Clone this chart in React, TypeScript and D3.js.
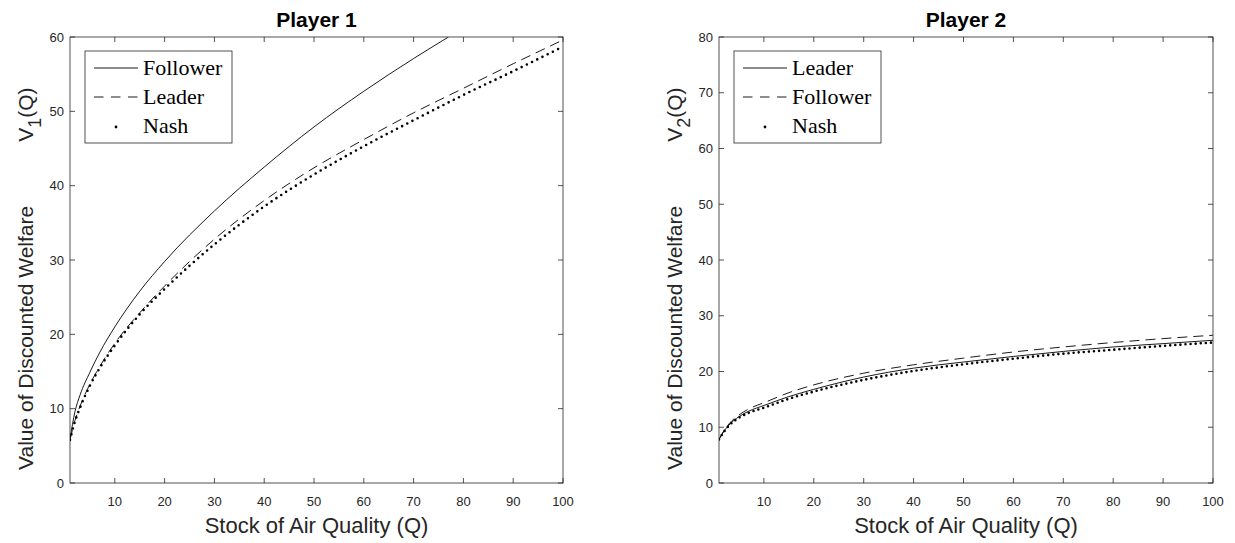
import React from "react";
import * as d3 from "d3";

// ---------- data ----------
const Q = [1, 2, 3, 5, 7, 10, 15, 20, 30, 40, 50, 60, 70, 80, 90, 100];
const Q_P1_FOLLOWER = [1, 2, 3, 5, 7, 10, 15, 20, 30, 40, 50, 60, 70, 77];

const P1_FOLLOWER = [5.9, 9.6, 11.8, 14.9, 17.6, 21.0, 25.8, 29.8, 36.6, 42.5, 47.9, 52.7, 57.1, 60.0];
const P1_LEADER = [5.8, 8.4, 10.3, 13.3, 15.7, 18.8, 22.9, 26.5, 32.8, 38.0, 42.4, 46.2, 49.8, 53.1, 56.4, 59.6];
const P1_NASH = [5.8, 8.3, 10.1, 13.1, 15.5, 18.5, 22.7, 26.1, 32.1, 37.2, 41.5, 45.3, 48.8, 52.2, 55.4, 58.7];

const P2_LEADER = [7.8, 9.3, 10.4, 11.9, 12.9, 13.9, 15.5, 16.8, 19.0, 20.6, 21.7, 22.7, 23.6, 24.4, 25.0, 25.6];
const P2_FOLLOWER = [7.8, 9.4, 10.6, 12.2, 13.3, 14.4, 16.2, 17.6, 19.7, 21.2, 22.4, 23.5, 24.4, 25.2, 25.9, 26.5];
const P2_NASH = [7.8, 9.2, 10.3, 11.7, 12.6, 13.5, 15.1, 16.4, 18.5, 20.1, 21.3, 22.3, 23.2, 23.9, 24.6, 25.2];

const X_TICKS = [10, 20, 30, 40, 50, 60, 70, 80, 90, 100];
const P1_Y_TICKS = [0, 10, 20, 30, 40, 50, 60];
const P2_Y_TICKS = [0, 10, 20, 30, 40, 50, 60, 70, 80];

const X_LABEL = "Stock of Air Quality (Q)";
const Y_LABEL = "Value of Discounted Welfare";

type Series = { name: string; xs: number[]; ys: number[]; style: "solid" | "dashed" | "dots" };

const AX = "#262626";
const SANS = "Helvetica, Arial, 'Liberation Sans', sans-serif";
const SERIF = "'Liberation Serif', 'Times New Roman', serif";

function Panel(props: {
  id: string;
  left: number;
  right: number;
  top: number;
  bottom: number;
  yMax: number;
  yTicks: number[];
  title: string;
  sub: string;
  series: Series[];
  dotGap: number;
}) {
  const { id, left, right, top, bottom, yMax, yTicks, title, sub, series, dotGap } = props;
  const x = d3.scaleLinear().domain([1, 100]).range([left, right]);
  const y = d3.scaleLinear().domain([0, yMax]).range([bottom, top]);
  const tl = 5;

  const lineGen = (xs: number[], ys: number[]) =>
    d3
      .line<number>()
      .x((_, i) => x(xs[i]))
      .y((d) => y(d))
      .curve(d3.curveMonotoneX)(ys) || "";

  const styleOf = (s: Series["style"]) => {
    if (s === "dashed") return { strokeWidth: 0.9, strokeDasharray: "10 6", strokeLinecap: "butt" as const };
    if (s === "dots") return { strokeWidth: 2.6, strokeDasharray: `0 ${dotGap}`, strokeLinecap: "round" as const };
    return { strokeWidth: 0.9, strokeDasharray: undefined, strokeLinecap: "butt" as const };
  };

  const legX = left + 15;
  const legY = top + 14;
  const legW = 147;
  const legH = 92;
  const rowY = [legY + 17, legY + 46, legY + 75];

  const midX = (left + right) / 2;

  return (
    <g>
      <defs>
        <clipPath id={id}>
          <rect x={left} y={top} width={right - left} height={bottom - top} />
        </clipPath>
      </defs>

      {/* series */}
      <g clipPath={`url(#${id})`}>
        {series.map((s, i) => {
          const st = styleOf(s.style);
          return (
            <path
              key={i}
              d={lineGen(s.xs, s.ys)}
              fill="none"
              stroke="#000"
              strokeWidth={st.strokeWidth}
              strokeDasharray={st.strokeDasharray}
              strokeLinecap={st.strokeLinecap}
            />
          );
        })}
      </g>

      {/* axes box */}
      <rect x={left} y={top} width={right - left} height={bottom - top} fill="none" stroke={AX} strokeWidth={0.8} />

      {/* x ticks */}
      {X_TICKS.map((t) => (
        <g key={"x" + t}>
          <line x1={x(t)} x2={x(t)} y1={bottom} y2={bottom - tl} stroke={AX} strokeWidth={0.8} />
          <line x1={x(t)} x2={x(t)} y1={top} y2={top + tl} stroke={AX} strokeWidth={0.8} />
          <text x={x(t)} y={bottom + 23} textAnchor="middle" fontFamily={SANS} fontSize={13} fill={AX}>
            {t}
          </text>
        </g>
      ))}

      {/* y ticks */}
      {yTicks.map((t) => (
        <g key={"y" + t}>
          <line x1={left} x2={left + tl} y1={y(t)} y2={y(t)} stroke={AX} strokeWidth={0.8} />
          <line x1={right} x2={right - tl} y1={y(t)} y2={y(t)} stroke={AX} strokeWidth={0.8} />
          <text x={left - 6} y={y(t)} dy="0.36em" textAnchor="end" fontFamily={SANS} fontSize={13} fill={AX}>
            {t}
          </text>
        </g>
      ))}

      {/* title */}
      <text x={midX} y={top - 10} textAnchor="middle" fontFamily={SANS} fontSize={21} fontWeight="bold" fill="#000">
        {title}
      </text>

      {/* x label */}
      <text x={midX} y={bottom + 50} textAnchor="middle" fontFamily={SANS} fontSize={22} fill={AX}>
        {X_LABEL}
      </text>

      {/* y label */}
      <text
        transform={`translate(${left - 37},${bottom - 13}) rotate(-90)`}
        textAnchor="start"
        fontFamily={SANS}
        fontSize={21}
        fill={AX}
      >
        {Y_LABEL}
        <tspan dx={64}>V</tspan>
        <tspan dy={8} fontSize={18}>{sub}</tspan>
        <tspan dy={-8}>(Q)</tspan>
      </text>

      {/* legend */}
      <rect x={legX} y={legY} width={legW} height={legH} fill="#fff" stroke={AX} strokeWidth={0.8} />
      {series.map((s, i) => {
        const st = styleOf(s.style);
        const ly = rowY[i];
        return (
          <g key={"l" + i}>
            {s.style === "dots" ? (
              <circle cx={legX + 31} cy={ly + 1} r={1.4} fill="#000" />
            ) : (
              <line
                x1={legX + 9}
                x2={legX + 53}
                y1={ly}
                y2={ly}
                stroke="#000"
                strokeWidth={st.strokeWidth}
                strokeDasharray={s.style === "dashed" ? "9.5 7.5" : undefined}
              />
            )}
            <text x={legX + 58} y={ly} dy="0.33em" fontFamily={SERIF} fontSize={22} fill="#000">
              {s.name}
            </text>
          </g>
        );
      })}
    </g>
  );
}

export default function App() {
  const p1: Series[] = [
    { name: "Follower", xs: Q_P1_FOLLOWER, ys: P1_FOLLOWER, style: "solid" },
    { name: "Leader", xs: Q, ys: P1_LEADER, style: "dashed" },
    { name: "Nash", xs: Q, ys: P1_NASH, style: "dots" },
  ];
  const p2: Series[] = [
    { name: "Leader", xs: Q, ys: P2_LEADER, style: "solid" },
    { name: "Follower", xs: Q, ys: P2_FOLLOWER, style: "dashed" },
    { name: "Nash", xs: Q, ys: P2_NASH, style: "dots" },
  ];
  return (
    <svg
      width={1235}
      height={543}
      style={{ position: "absolute", left: 0, top: 0, background: "#fff" }}
    >
      <rect x={0} y={0} width={1235} height={543} fill="#fff" />
      <Panel
        id="clip1"
        left={70}
        right={563}
        top={37}
        bottom={483}
        yMax={60}
        yTicks={P1_Y_TICKS}
        title="Player 1"
        sub="1"
        series={p1}
        dotGap={5.8}
      />
      <Panel
        id="clip2"
        left={719}
        right={1213}
        top={37}
        bottom={483}
        yMax={80}
        yTicks={P2_Y_TICKS}
        title="Player 2"
        sub="2"
        series={p2}
        dotGap={5.1}
      />
    </svg>
  );
}
